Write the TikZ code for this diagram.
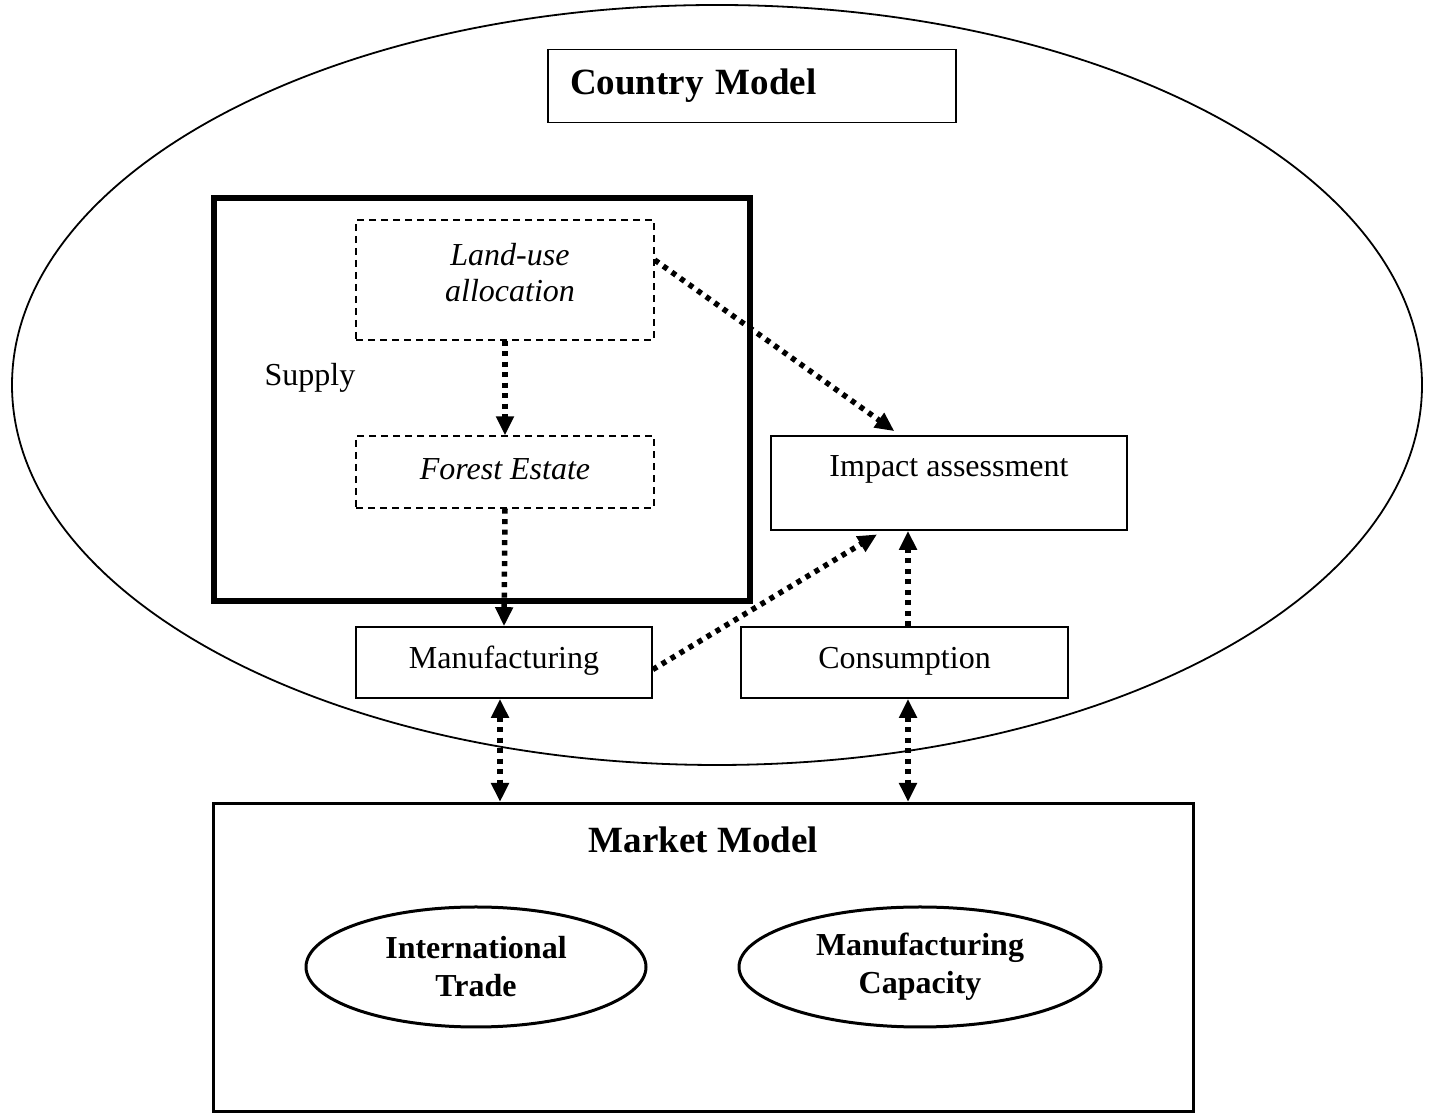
\documentclass[tikz,border=0pt]{standalone}
\usepackage{fontspec}
\setmainfont{Liberation Serif}
\usetikzlibrary{arrows.meta,calc,positioning,shapes.geometric}

\tikzset{
  plainbox/.style={draw,line width=1.6pt,inner sep=0pt},
  dashbox/.style={draw,line width=1.4pt,dash pattern=on 7pt off 5pt,inner sep=0pt},
  flow/.style={line width=5.5pt,dash pattern=on 5pt off 5.5pt,
    -{Triangle[length=19pt,width=17pt]}},
  bothflow/.style={flow,{Triangle[length=19pt,width=17pt]}-{Triangle[length=19pt,width=17pt]}},
  txt/.style={font=\fontsize{32}{38}\selectfont},
  btxt/.style={font=\bfseries\fontsize{32}{38}\selectfont,align=center},
  ttl/.style={font=\bfseries\fontsize{37}{42}\selectfont}
}

\begin{document}
\begin{tikzpicture}[x=1pt,y=1pt]
  \useasboundingbox (0,0) rectangle (1429,1115);

  % country model
  \node[draw,line width=1.8pt,ellipse,minimum width=1410,minimum height=760,inner sep=0pt]
    (country) at (717,730) {};
  \node[plainbox,ttl,minimum width=408,minimum height=73,text width=364,
        align=left,inner xsep=22pt]
    (countrytitle) at (752,1029) {Country Model};

  % supply block
  \node[draw,line width=6pt,minimum width=536,minimum height=403,inner sep=0pt]
    (supply) at (482,715.5) {};
  \node[txt] (supplylabel) at (310,737) {Supply};

  \node[dashbox,minimum width=298,minimum height=120] (landuse) at (505,835) {};
  \node[txt,font=\itshape\fontsize{32}{36}\selectfont,align=center]
    (landusetext) at (510,842) {Land-use\\allocation};

  \node[dashbox,minimum width=298,minimum height=72] (forest) at (505,643) {};
  \node[txt,font=\itshape\fontsize{32}{38}\selectfont]
    (foresttext) at (505,646) {Forest Estate};

  \node[plainbox,minimum width=356,minimum height=94] (impact) at (949,632) {};
  \node[txt] (impacttext) at (949,646) {Impact assessment};

  \node[plainbox,minimum width=296,minimum height=71] (manuf) at (504,452.5) {};
  \node[txt] (manuftext) at (504,454) {Manufacturing};

  \node[plainbox,minimum width=327,minimum height=71] (consum) at (904.5,452.5) {};
  \node[txt] (consumtext) at (904.5,454) {Consumption};

  % market model
  \node[draw,line width=3pt,minimum width=980,minimum height=308,inner sep=0pt]
    (market) at (703.5,157.5) {};
  \node[ttl] (markettitle) at (703.5,275) {Market Model};

  \node[draw,line width=3pt,ellipse,minimum width=340,minimum height=120,
        inner sep=0pt,btxt] (trade) at (476,148) {International\\Trade};
  \node[draw,line width=3pt,ellipse,minimum width=362,minimum height=120,
        inner sep=0pt,btxt] (capacity) at (920,148) {Manufacturing\\Capacity};

  % connectors
  \draw[flow] (landuse.south) -- (forest.north);
  \draw[flow] (forest.south) -- (manuf.north);
  \draw[flow,shorten >=7pt] ([yshift=20]landuse.east) -- ([xshift=-49]impact.north);
  \draw[flow,shorten >=7pt] ([yshift=-7]manuf.east) -- ([xshift=-66]impact.south);
  \draw[flow] ([xshift=3.5]consum.north) -- ([xshift=3.5]consum.north |- impact.south);
  \draw[bothflow] ([xshift=-4]manuf.south) -- ([xshift=-4]manuf.south |- market.north);
  \draw[bothflow] ([xshift=3.5]consum.south) -- ([xshift=3.5]consum.south |- market.north);
\end{tikzpicture}
\end{document}
